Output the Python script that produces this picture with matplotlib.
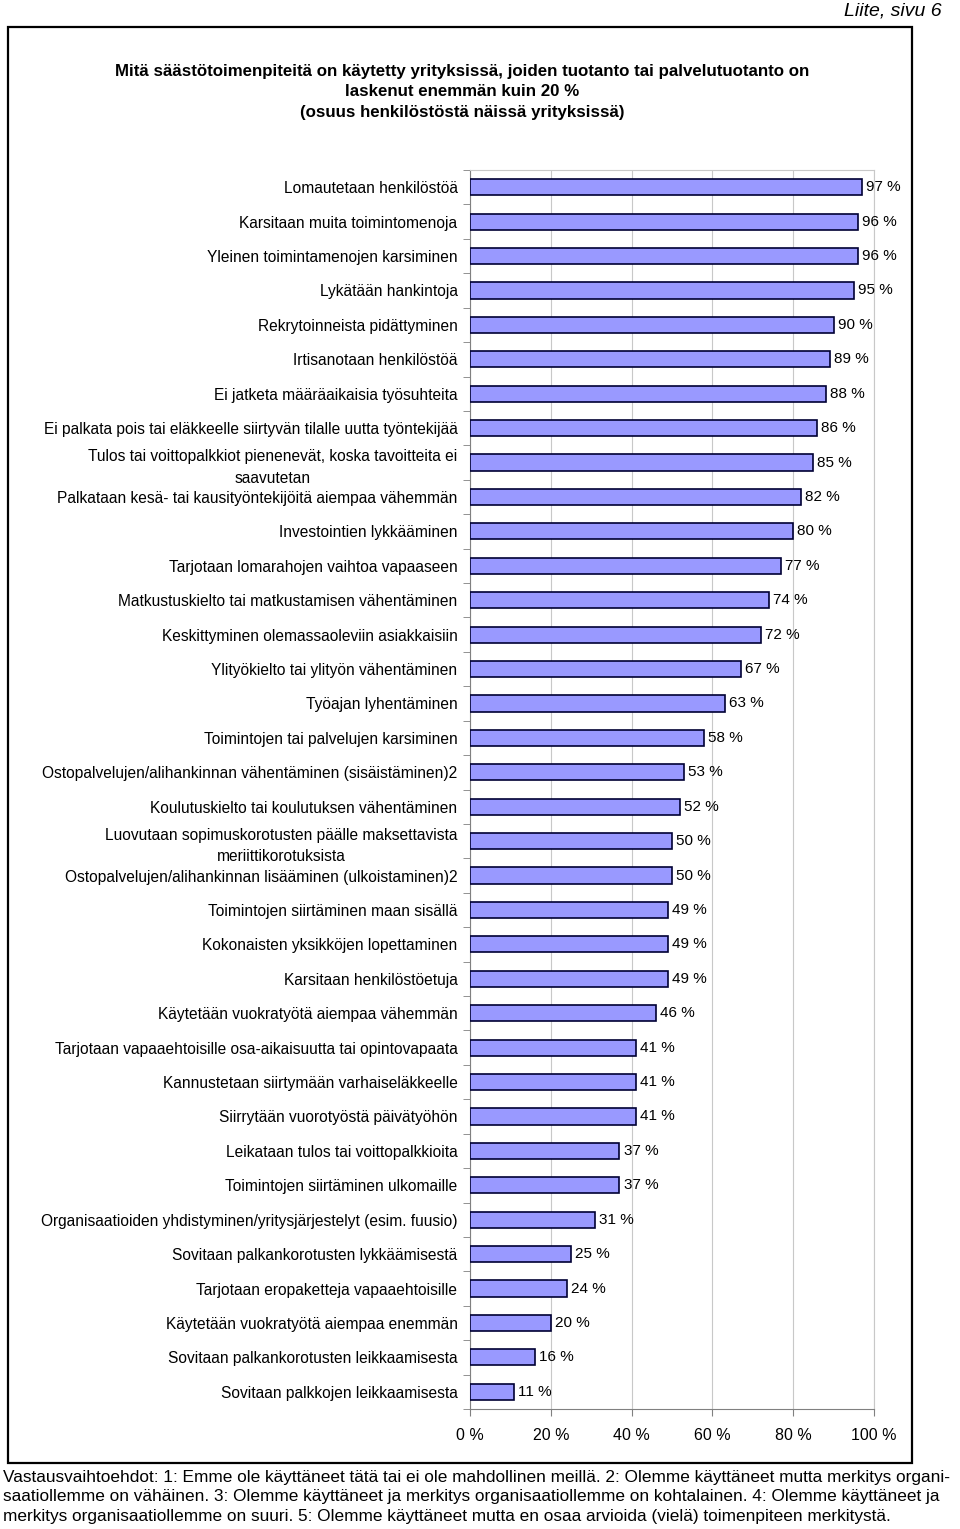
"""Horizontal bar chart: säästötoimenpiteet yrityksissä."""

import matplotlib

matplotlib.use("Agg")
import matplotlib.pyplot as plt
from matplotlib.patches import Rectangle
from matplotlib.ticker import FixedLocator

plt.rcParams["font.family"] = ["Liberation Sans", "DejaVu Sans"]

categories = [
    "Lomautetaan henkilöstöä",
    "Karsitaan muita toimintomenoja",
    "Yleinen toimintamenojen karsiminen",
    "Lykätään hankintoja",
    "Rekrytoinneista pidättyminen",
    "Irtisanotaan henkilöstöä",
    "Ei jatketa määräaikaisia työsuhteita",
    "Ei palkata pois tai eläkkeelle siirtyvän tilalle uutta työntekijää",
    "Tulos tai voittopalkkiot pienenevät, koska tavoitteita ei\nsaavutetan",
    "Palkataan kesä- tai kausityöntekijöitä aiempaa vähemmän",
    "Investointien lykkääminen",
    "Tarjotaan lomarahojen vaihtoa vapaaseen",
    "Matkustuskielto tai matkustamisen vähentäminen",
    "Keskittyminen olemassaoleviin asiakkaisiin",
    "Ylityökielto tai ylityön vähentäminen",
    "Työajan lyhentäminen",
    "Toimintojen tai palvelujen karsiminen",
    "Ostopalvelujen/alihankinnan vähentäminen (sisäistäminen)2",
    "Koulutuskielto tai koulutuksen vähentäminen",
    "Luovutaan sopimuskorotusten päälle maksettavista\nmeriittikorotuksista",
    "Ostopalvelujen/alihankinnan lisääminen (ulkoistaminen)2",
    "Toimintojen siirtäminen maan sisällä",
    "Kokonaisten yksikköjen lopettaminen",
    "Karsitaan henkilöstöetuja",
    "Käytetään vuokratyötä aiempaa vähemmän",
    "Tarjotaan vapaaehtoisille osa-aikaisuutta tai opintovapaata",
    "Kannustetaan siirtymään varhaiseläkkeelle",
    "Siirrytään vuorotyöstä päivätyöhön",
    "Leikataan tulos tai voittopalkkioita",
    "Toimintojen siirtäminen ulkomaille",
    "Organisaatioiden yhdistyminen/yritysjärjestelyt (esim. fuusio)",
    "Sovitaan palkankorotusten lykkäämisestä",
    "Tarjotaan eropaketteja vapaaehtoisille",
    "Käytetään vuokratyötä aiempaa enemmän",
    "Sovitaan palkankorotusten leikkaamisesta",
    "Sovitaan palkkojen leikkaamisesta",
]
values = [97, 96, 96, 95, 90, 89, 88, 86, 85, 82, 80, 77, 74, 72, 67, 63, 58, 53,
          52, 50, 50, 49, 49, 49, 46, 41, 41, 41, 37, 37, 31, 25, 24, 20, 16, 11]
x_ticks = [0, 20, 40, 60, 80, 100]

title = ("Mitä säästötoimenpiteitä on käytetty yrityksissä, joiden tuotanto tai palvelutuotanto on\n"
         "laskenut enemmän kuin 20 %\n"
         "(osuus henkilöstöstä näissä yrityksissä)")
footnote = ("Vastausvaihtoehdot: 1: Emme ole käyttäneet tätä tai ei ole mahdollinen meillä. 2: Olemme käyttäneet mutta merkitys organi-\n"
            "saatiollemme on vähäinen. 3: Olemme käyttäneet ja merkitys organisaatiollemme on kohtalainen. 4: Olemme käyttäneet ja\n"
            "merkitys organisaatiollemme on suuri. 5: Olemme käyttäneet mutta en osaa arvioida (vielä) toimenpiteen merkitystä.")

W, H = 960, 1529
fig = plt.figure(figsize=(W / 100, H / 100), dpi=100)

# outer frame
fig.patches.append(Rectangle((8 / W, 1 - 1463 / H), (912 - 8) / W, (1463 - 27) / H,
                             transform=fig.transFigure, fill=False, edgecolor="black", linewidth=1.6))

ax = fig.add_axes([470 / W, 1 - 1409 / H, (874 - 470) / W, (1409 - 170) / H])
y = list(range(len(categories)))
ax.barh(y, values, height=0.47, color="#9999FF", edgecolor="#000033", linewidth=1.2, zorder=3)

for yi, v in zip(y, values):
    ax.text(v + 1.0, yi, f"{v} %", va="center", ha="left", fontsize=11, zorder=4)

ax.set_xlim(0, 100)
ax.set_ylim(len(categories) - 0.5, -0.5)
ax.set_xticks(x_ticks)
ax.set_xticklabels([f"{t} %" for t in x_ticks], fontsize=11.5)
ax.set_yticks(y)
ax.set_yticklabels(categories, fontsize=11.2)
for lbl in ax.get_yticklabels():
    if "\n" in lbl.get_text():
        lbl.set_multialignment("center")
        lbl.set_linespacing(1.55)
ax.tick_params(axis="y", which="major", length=0, pad=9)
ax.yaxis.set_minor_locator(FixedLocator([i - 0.5 for i in range(len(categories) + 1)]))
ax.tick_params(axis="y", which="minor", length=5, color="#808080")
ax.tick_params(axis="x", length=5, color="#808080", pad=9)
ax.grid(axis="x", color="#C8C8C8", linewidth=0.8, zorder=0)
for side in ["left", "bottom"]:
    ax.spines[side].set_color("#808080")
for side in ["top", "right"]:
    ax.spines[side].set_color("#C8C8C8")

fig.text(462 / W, 1 - 92 / H, title, ha="center", va="center", fontsize=12.2,
         fontweight="bold", linespacing=1.47)
fig.text(942 / W, 1 - 11 / H, "Liite, sivu 6", ha="right", va="center", fontsize=14, style="italic")
fig.text(3 / W, 1 - 1497 / H, footnote, ha="left", va="center", fontsize=12.4, linespacing=1.36)

fig.savefig("out.png", dpi=100)
